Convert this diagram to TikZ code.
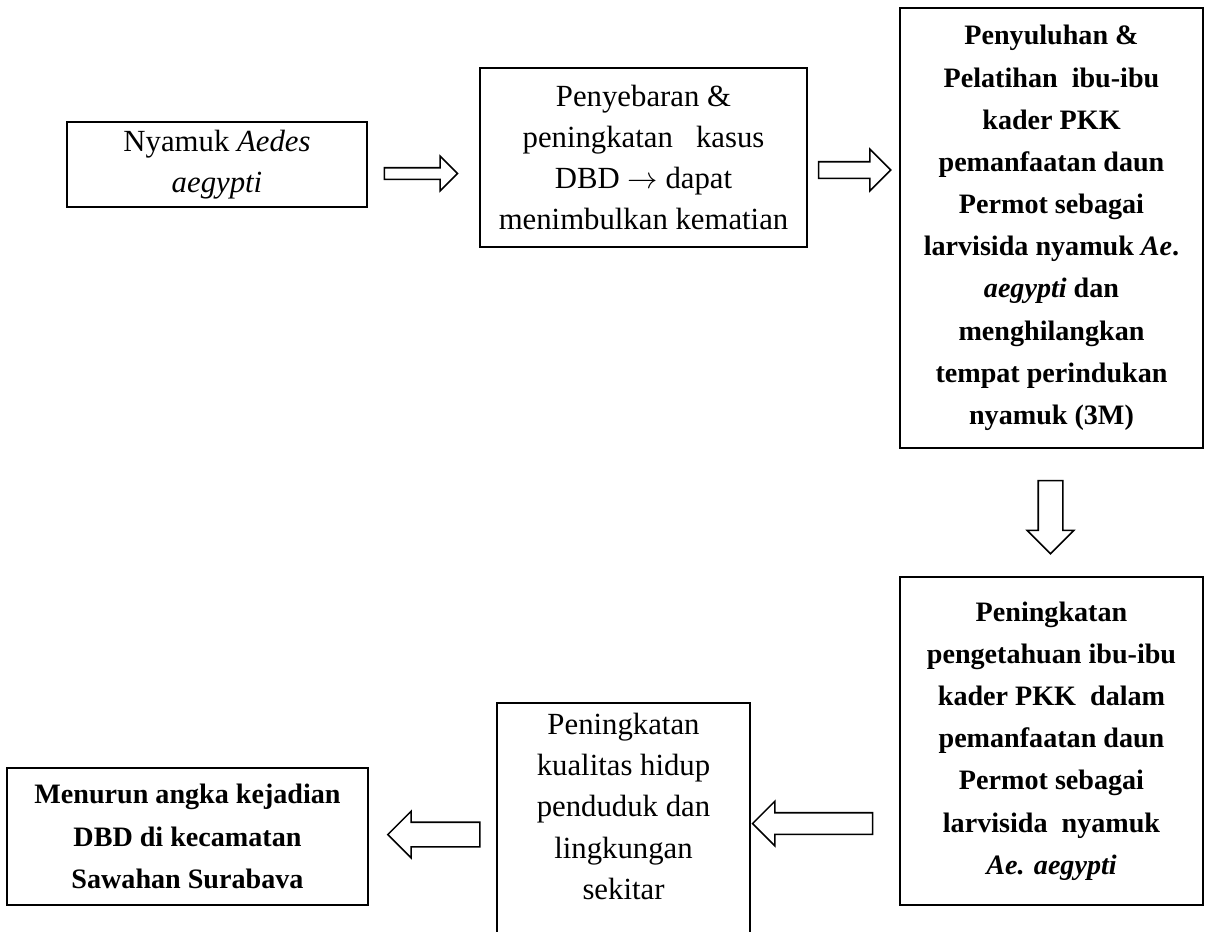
\documentclass[tikz,border=0pt]{standalone}
\usepackage{fontspec}
\setmainfont{Liberation Serif}
\usetikzlibrary{shapes.arrows}

\begin{document}
\begin{tikzpicture}[
    box/.style={draw, line width=1pt, align=center, inner sep=0pt, font=\fontsize{17.5}{23.5}\selectfont},
    boldbox/.style={box, font=\fontsize{16}{24}\selectfont\bfseries},
    fat/.style={draw, single arrow, single arrow tip angle=90, line width=0.9pt, inner xsep=0pt}
]
\useasboundingbox (0,0) rectangle (24.14,-18.62);

% top row
\node[box, minimum width=6.0cm, minimum height=1.7cm] (nyamuk) at (4.34,-3.29) {Nyamuk \textit{Aedes}\\\textit{aegypti}};
\node[box, minimum width=6.54cm, minimum height=3.58cm] (sebar) at (12.87,-3.15) {Penyebaran \&\\peningkatan \ \ kasus\\DBD $\rightarrow$ dapat\\menimbulkan kematian};
\node[boldbox, minimum width=6.06cm, minimum height=8.8cm] (latih) at (21.03,-4.56) {Penyuluhan \&\\Pelatihan \ ibu-ibu\\kader PKK\\pemanfaatan daun\\Permot sebagai\\larvisida nyamuk \textit{Ae}.\\\textit{aegypti} dan\\menghilangkan\\tempat perindukan\\nyamuk (3M)};

% bottom row
\node[boldbox, minimum width=6.06cm, minimum height=6.56cm] (tahu) at (21.03,-14.82) {Peningkatan\\pengetahuan ibu-ibu\\kader PKK \ dalam\\pemanfaatan daun\\Permot sebagai\\larvisida \ nyamuk\\\textit{Ae. aegypti}};
\node[box, anchor=north, minimum width=5.06cm, inner ysep=0.2cm, text depth=6cm] (kual) at (12.47,-14.04) {Peningkatan\\kualitas hidup\\penduduk dan\\lingkungan\\sekitar};
\node[boldbox, minimum width=7.22cm, minimum height=2.74cm] (turun) at (3.75,-16.73) {Menurun angka kejadian\\DBD di kecamatan\\Sawahan Surabava};

% block arrows
\node[fat, minimum height=1.46cm, inner ysep=0.1cm, single arrow head extend=0.23cm] (a1) at (8.36,-3.47) {};
\node[fat, minimum height=1.44cm, inner ysep=0.15cm, single arrow head extend=0.25cm] (a2) at (17.01,-3.40) {};
\node[fat, rotate=-90, minimum height=1.46cm, inner ysep=0.23cm, single arrow head extend=0.22cm] (a3) at (21.01,-10.22) {};
\node[fat, rotate=180, minimum height=2.4cm, inner ysep=0.2cm, single arrow head extend=0.23cm] (a4) at (16.36,-16.47) {};
\node[fat, rotate=180, minimum height=1.84cm, inner ysep=0.23cm, single arrow head extend=0.22cm] (a5) at (8.8,-16.69) {};
\end{tikzpicture}
\end{document}
